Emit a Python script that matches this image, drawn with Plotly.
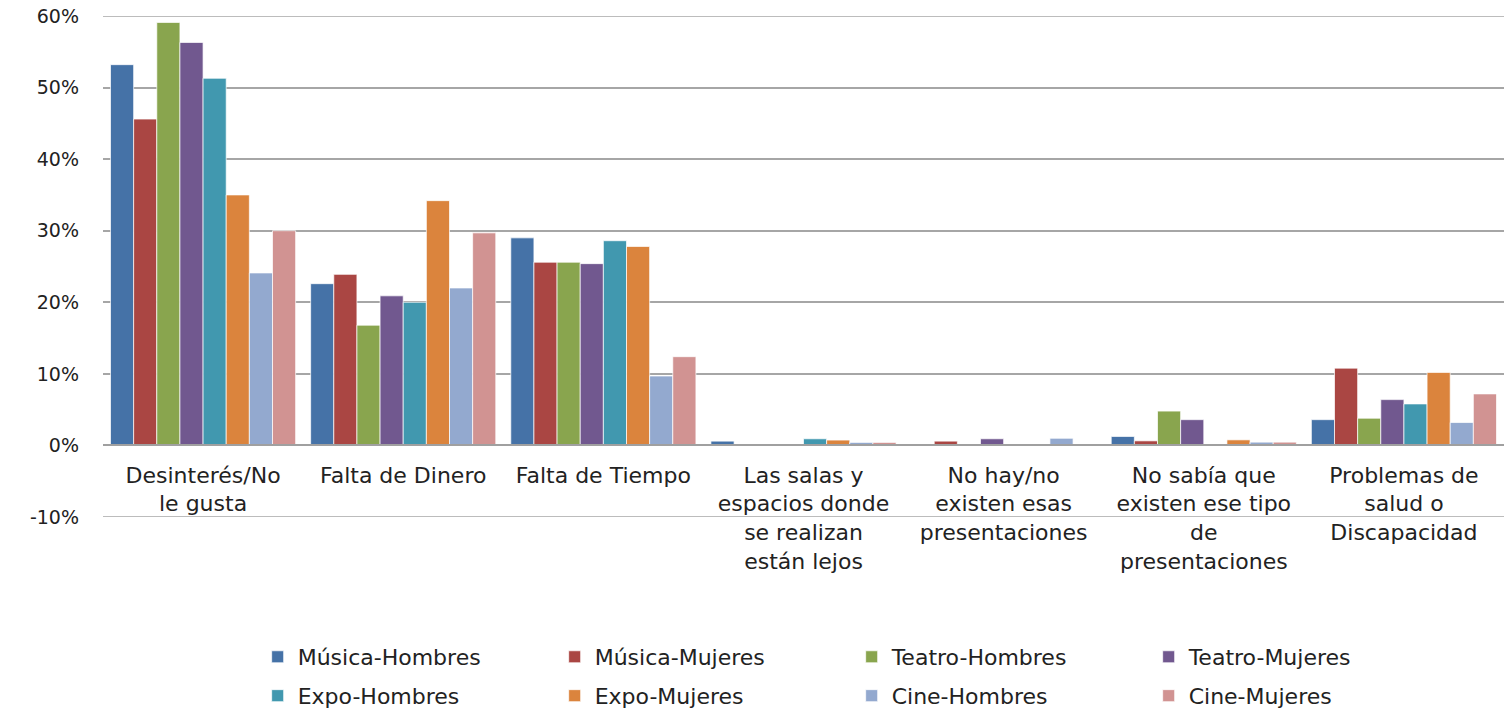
import plotly.graph_objects as go

# Categorías (motivos) con saltos de línea como en el original
motivos = [
    'Desinterés/No<br>le gusta',
    'Falta de Dinero',
    'Falta de Tiempo',
    'Las salas y<br>espacios donde<br>se realizan<br>están lejos',
    'No hay/no<br>existen esas<br>presentaciones',
    'No sabía que<br>existen ese tipo<br>de<br>presentaciones',
    'Problemas de<br>salud o<br>Discapacidad',
]

# Valores por serie (proporciones)
musica_hombres = [0.532, 0.226, 0.290, 0.006, 0.000, 0.0125, 0.036]
musica_mujeres = [0.456, 0.239, 0.256, 0.000, 0.006, 0.0064, 0.108]
teatro_hombres = [0.591, 0.168, 0.256, 0.000, 0.000, 0.048, 0.038]
teatro_mujeres = [0.563, 0.209, 0.254, 0.000, 0.0093, 0.036, 0.064]
expo_hombres = [0.513, 0.200, 0.286, 0.0093, 0.000, 0.000, 0.058]
expo_mujeres = [0.350, 0.342, 0.278, 0.0075, 0.000, 0.0078, 0.102]
cine_hombres = [0.241, 0.220, 0.097, 0.0042, 0.010, 0.0046, 0.032]
cine_mujeres = [0.300, 0.297, 0.124, 0.0042, 0.000, 0.0046, 0.072]

# Eje Y
y_min, y_max = -0.1, 0.6
y_ticks = [-0.1, 0.0, 0.1, 0.2, 0.3, 0.4, 0.5, 0.6]
y_tick_labels = ['-10%', '0%', '10%', '20%', '30%', '40%', '50%', '60%']

series = [
    ('Música-Hombres', musica_hombres, '#4572A7'),
    ('Música-Mujeres', musica_mujeres, '#AA4643'),
    ('Teatro-Hombres', teatro_hombres, '#89A54E'),
    ('Teatro-Mujeres', teatro_mujeres, '#71588F'),
    ('Expo-Hombres', expo_hombres, '#4198AF'),
    ('Expo-Mujeres', expo_mujeres, '#DB843D'),
    ('Cine-Hombres', cine_hombres, '#93A9CF'),
    ('Cine-Mujeres', cine_mujeres, '#D19392'),
]

fig = go.Figure()
for i, (nombre, valores, color) in enumerate(series):
    fig.add_trace(go.Bar(
        x=motivos,
        y=valores,
        name=nombre,
        legend='legend' if i < 4 else 'legend2',  # dos filas de leyenda
        marker={'color': color, 'line': {'color': 'rgba(255,255,255,0.7)', 'width': 1}},
    ))

fuente = 'DejaVu Sans'
texto = '#222222'
gris = '#a6a6a6'

leyenda_base = {
    'orientation': 'h',
    'x': 0.1104,
    'xanchor': 'left',
    'yanchor': 'middle',
    'entrywidth': 252,
    'entrywidthmode': 'pixels',
    'font': {'family': fuente, 'size': 22, 'color': texto},
    'bgcolor': 'rgba(0,0,0,0)',
}

fig.update_layout(
    width=1504,
    height=711,
    barmode='group',
    bargap=0.075,
    bargroupgap=0,
    plot_bgcolor='white',
    paper_bgcolor='white',
    margin={'l': 103, 'r': 0, 't': 16, 'b': 194, 'autoexpand': False},
    font={'family': fuente, 'size': 22, 'color': texto},
    legend={**leyenda_base, 'y': -0.2794},
    legend2={**leyenda_base, 'y': -0.357},
    xaxis={
        'anchor': 'free',
        'position': -y_min / (y_max - y_min),  # eje de categorías en el 0%
        'automargin': False,
        'showline': True,
        'linecolor': '#a0a0a0',
        'linewidth': 2,
        'showgrid': False,
        'ticks': '',
        'ticklabelstandoff': 10,
        'tickfont': {'family': fuente, 'size': 22, 'color': texto},
    },
    yaxis={
        'range': [y_min, y_max],
        'tickvals': y_ticks,
        'ticktext': y_tick_labels,
        'automargin': False,
        'ticklabeloverflow': 'allow',
        'showgrid': True,
        'gridcolor': gris,
        'gridwidth': 1.5,
        'zeroline': False,
        'showline': False,
        'ticks': '',
        'ticklabelstandoff': 23,
        'tickfont': {'family': fuente, 'size': 19, 'color': texto},
    },
)

# Líneas de los extremos (Plotly omite la rejilla en los bordes)
fig.add_hline(y=y_min, line={'color': gris, 'width': 1.5}, layer='below')
fig.add_hline(y=y_max, line={'color': gris, 'width': 1.5}, layer='below')

# Sin barra de herramientas y sin margen en el body
fig.write_html(
    'out.html',
    config={'displayModeBar': False},
    post_script="document.body.style.margin='0';",
)
